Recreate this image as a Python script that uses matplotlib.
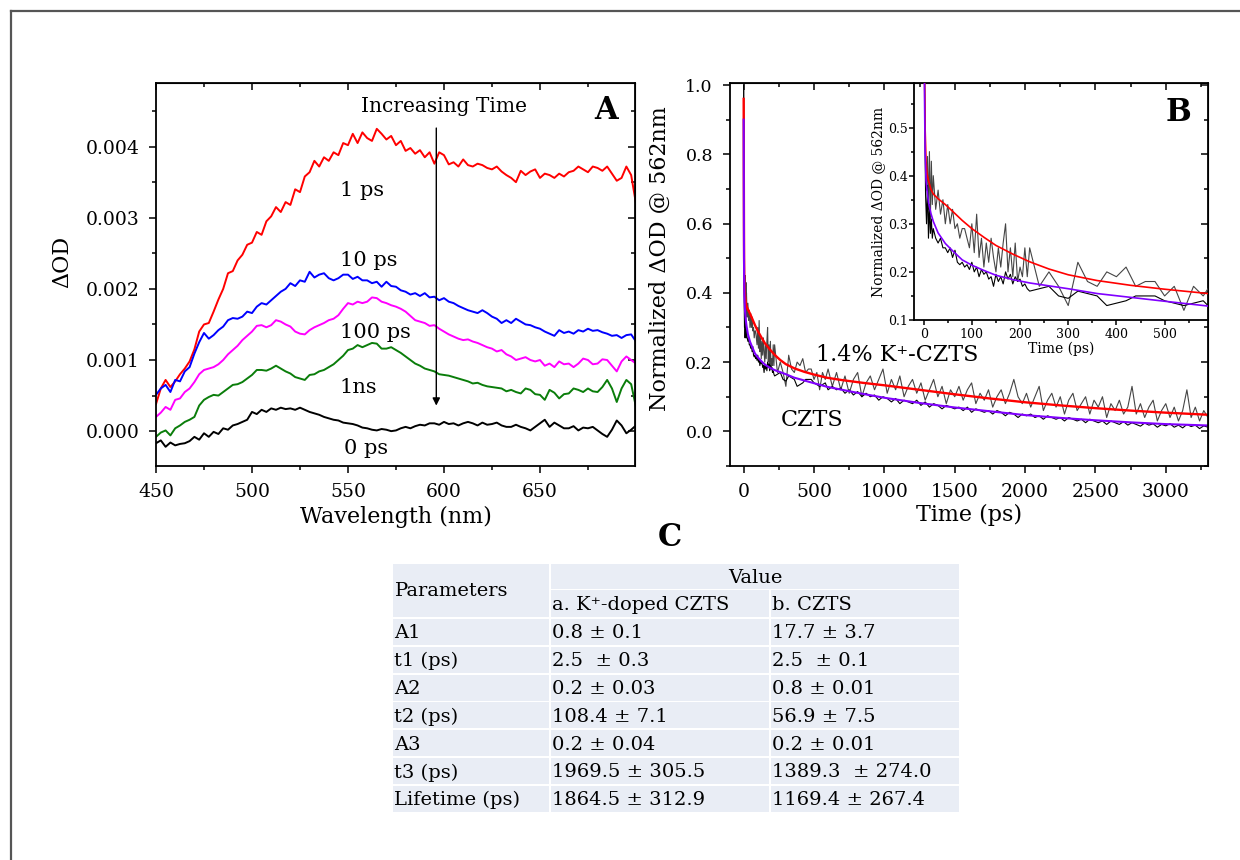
import matplotlib
matplotlib.use('Agg')
import matplotlib.pyplot as plt
import numpy as np
from matplotlib.lines import Line2D
from matplotlib.patches import Rectangle
from matplotlib.ticker import MultipleLocator, FormatStrFormatter, NullFormatter

plt.rcParams['font.family'] = ['DejaVu Serif', 'DejaVu Sans']
plt.rcParams['mathtext.fontset'] = 'dejavuserif'

# ---------------- panel A : transient spectra ----------------
wavelength = np.linspace(450, 700, 101)

od_1ps = [0.00038, 0.00060, 0.00072, 0.00062, 0.00070, 0.00080, 0.00088, 0.00098, 0.00115, 0.00140,
          0.00150, 0.00152, 0.00168, 0.00185, 0.00200, 0.00222, 0.00225, 0.00240, 0.00248, 0.00262,
          0.00265, 0.00280, 0.00276, 0.00295, 0.00302, 0.00315, 0.00308, 0.00322, 0.00318, 0.00340,
          0.00336, 0.00358, 0.00364, 0.00380, 0.00372, 0.00385, 0.00380, 0.00392, 0.00388, 0.00405,
          0.00402, 0.00418, 0.00405, 0.00420, 0.00412, 0.00408, 0.00425, 0.00418, 0.00410, 0.00415,
          0.00402, 0.00408, 0.00394, 0.00398, 0.00390, 0.00395, 0.00385, 0.00392, 0.00376, 0.00392,
          0.00388, 0.00375, 0.00378, 0.00372, 0.00382, 0.00374, 0.00372, 0.00376, 0.00374, 0.00370,
          0.00368, 0.00372, 0.00365, 0.00360, 0.00356, 0.00350, 0.00366, 0.00360, 0.00365, 0.00368,
          0.00356, 0.00362, 0.00360, 0.00356, 0.00362, 0.00358, 0.00364, 0.00366, 0.00372, 0.00368,
          0.00364, 0.00372, 0.00370, 0.00366, 0.00372, 0.00362, 0.00352, 0.00356, 0.00372, 0.00360,
          0.00320]
od_10ps = [0.00051, 0.00060, 0.00065, 0.00055, 0.00072, 0.00070, 0.00084, 0.00090, 0.00109, 0.00125,
           0.00138, 0.00130, 0.00135, 0.00142, 0.00147, 0.00156, 0.00159, 0.00158, 0.00161, 0.00168,
           0.00166, 0.00175, 0.00180, 0.00178, 0.00184, 0.00190, 0.00196, 0.00200, 0.00208, 0.00204,
           0.00212, 0.00210, 0.00224, 0.00216, 0.00220, 0.00222, 0.00215, 0.00212, 0.00215, 0.00220,
           0.00220, 0.00214, 0.00217, 0.00212, 0.00212, 0.00208, 0.00210, 0.00203, 0.00210, 0.00204,
           0.00203, 0.00198, 0.00196, 0.00192, 0.00194, 0.00190, 0.00194, 0.00188, 0.00189, 0.00184,
           0.00187, 0.00182, 0.00180, 0.00176, 0.00173, 0.00170, 0.00168, 0.00166, 0.00170, 0.00166,
           0.00161, 0.00158, 0.00152, 0.00156, 0.00152, 0.00158, 0.00154, 0.00150, 0.00149, 0.00146,
           0.00144, 0.00140, 0.00137, 0.00134, 0.00142, 0.00138, 0.00140, 0.00137, 0.00142, 0.00140,
           0.00144, 0.00141, 0.00142, 0.00139, 0.00137, 0.00134, 0.00135, 0.00131, 0.00135, 0.00136,
           0.00126]
od_100ps = [0.00020, 0.00026, 0.00034, 0.00030, 0.00044, 0.00046, 0.00055, 0.00060, 0.00069, 0.00080,
            0.00086, 0.00088, 0.00090, 0.00094, 0.00100, 0.00108, 0.00114, 0.00120, 0.00128, 0.00134,
            0.00140, 0.00148, 0.00149, 0.00146, 0.00149, 0.00156, 0.00154, 0.00150, 0.00147, 0.00140,
            0.00137, 0.00136, 0.00142, 0.00146, 0.00149, 0.00152, 0.00156, 0.00158, 0.00163, 0.00172,
            0.00180, 0.00178, 0.00182, 0.00180, 0.00182, 0.00188, 0.00187, 0.00182, 0.00180, 0.00177,
            0.00175, 0.00172, 0.00168, 0.00162, 0.00156, 0.00154, 0.00152, 0.00148, 0.00149, 0.00144,
            0.00140, 0.00136, 0.00133, 0.00130, 0.00128, 0.00129, 0.00126, 0.00124, 0.00121, 0.00118,
            0.00116, 0.00112, 0.00114, 0.00108, 0.00105, 0.00100, 0.00102, 0.00104, 0.00100, 0.00098,
            0.00100, 0.00092, 0.00095, 0.00090, 0.00098, 0.00094, 0.00095, 0.00090, 0.00095, 0.00102,
            0.00100, 0.00094, 0.00095, 0.00101, 0.00100, 0.00092, 0.00084, 0.00098, 0.00105, 0.00100,
            0.00095]
od_1ns = [-0.00008, -0.00002, 0.00001, -0.00006, 0.00004, 0.00008, 0.00013, 0.00016, 0.00020, 0.00036,
          0.00044, 0.00048, 0.00051, 0.00050, 0.00055, 0.00060, 0.00065, 0.00066, 0.00069, 0.00074,
          0.00079, 0.00086, 0.00086, 0.00085, 0.00088, 0.00092, 0.00088, 0.00084, 0.00081, 0.00076,
          0.00074, 0.00072, 0.00079, 0.00080, 0.00084, 0.00086, 0.00090, 0.00094, 0.00100, 0.00106,
          0.00114, 0.00116, 0.00121, 0.00118, 0.00121, 0.00124, 0.00123, 0.00116, 0.00116, 0.00118,
          0.00114, 0.00110, 0.00105, 0.00100, 0.00095, 0.00092, 0.00088, 0.00086, 0.00084, 0.00080,
          0.00079, 0.00078, 0.00076, 0.00074, 0.00072, 0.00070, 0.00067, 0.00068, 0.00065, 0.00063,
          0.00062, 0.00061, 0.00060, 0.00056, 0.00058, 0.00055, 0.00053, 0.00060, 0.00058, 0.00052,
          0.00051, 0.00044, 0.00058, 0.00054, 0.00046, 0.00052, 0.00053, 0.00060, 0.00058, 0.00055,
          0.00060, 0.00056, 0.00055, 0.00062, 0.00072, 0.00060, 0.00041, 0.00060, 0.00072, 0.00066,
          0.00034]
od_0ps = [-0.00017, -0.00013, -0.00022, -0.00016, -0.00020, -0.00018, -0.00017, -0.00014, -0.00008, -0.00012,
          -0.00003, -0.00008, -0.00001, -0.00004, 0.00004, 0.00002, 0.00008, 0.00010, 0.00013, 0.00016,
          0.00027, 0.00024, 0.00030, 0.00027, 0.00032, 0.00030, 0.00033, 0.00031, 0.00032, 0.00030,
          0.00033, 0.00030, 0.00027, 0.00025, 0.00023, 0.00020, 0.00018, 0.00016, 0.00015, 0.00012,
          0.00011, 0.00010, 0.00008, 0.00005, 0.00004, 0.00002, 0.00001, 0.00003, 0.00002, 0.00000,
          0.00001, 0.00004, 0.00006, 0.00004, 0.00007, 0.00009, 0.00008, 0.00011, 0.00011, 0.00009,
          0.00013, 0.00010, 0.00011, 0.00008, 0.00011, 0.00013, 0.00011, 0.00008, 0.00012, 0.00009,
          0.00010, 0.00012, 0.00008, 0.00006, 0.00006, 0.00009, 0.00006, 0.00004, 0.00001, 0.00006,
          0.00011, 0.00016, 0.00006, 0.00012, 0.00008, 0.00004, 0.00004, 0.00007, 0.00001, 0.00005,
          0.00004, 0.00006, 0.00001, -0.00004, -0.00008, 0.00002, 0.00015, 0.00008, -0.00003, 0.00002,
          0.00008]

spectra = [od_1ps, od_10ps, od_100ps, od_1ns, od_0ps]
spec_colors = ['#ff0000', '#0000ff', '#ff00ff', '#0a7d0a', '#000000']
spec_labels = ['1 ps', '10 ps', '100 ps', '1ns', '0 ps']
spec_label_x = [545.7, 545.7, 545.7, 545.7, 547.7]
spec_label_y = [0.00339, 0.00240, 0.00138, 0.00062, -0.00024]

# ---------------- panel B : kinetics at 562 nm ----------------
t_data = np.concatenate([np.arange(0, 20, 2), np.arange(20, 220, 5),
                         np.arange(220, 600, 20), 600 + 30 * np.arange(91)])

k_czts_data = [1.0, 0.62, 0.42, 0.37, 0.44, 0.33, 0.45, 0.31, 0.43, 0.34,
               0.40, 0.33, 0.37, 0.32, 0.35, 0.30, 0.34, 0.30, 0.33, 0.29,
               0.30, 0.27, 0.29, 0.29, 0.27, 0.25, 0.30, 0.24, 0.32, 0.23,
               0.27, 0.21, 0.26, 0.22, 0.27, 0.23, 0.20, 0.25, 0.21, 0.26,
               0.30, 0.20, 0.25, 0.19, 0.26, 0.18, 0.21, 0.19, 0.25, 0.19,
               0.25, 0.17, 0.20, 0.17, 0.13, 0.22, 0.18, 0.17, 0.20, 0.19,
               0.21, 0.17, 0.18, 0.18, 0.15, 0.17, 0.12, 0.17, 0.15,
               0.18, 0.13, 0.17, 0.12, 0.16, 0.11, 0.15, 0.17, 0.10, 0.14,
               0.16, 0.12, 0.15, 0.18, 0.11, 0.15, 0.12, 0.16, 0.10, 0.13,
               0.15, 0.11, 0.14, 0.09, 0.12, 0.15, 0.10, 0.13, 0.08, 0.12,
               0.10, 0.13, 0.09, 0.12, 0.14, 0.08, 0.11, 0.09, 0.12, 0.07,
               0.10, 0.12, 0.08, 0.11, 0.15, 0.10, 0.08, 0.11, 0.07, 0.10,
               0.13, 0.06, 0.09, 0.11, 0.07, 0.10, 0.05, 0.09, 0.11, 0.06,
               0.08, 0.10, 0.05, 0.09, 0.07, 0.10, 0.04, 0.08, 0.06, 0.09,
               0.05, 0.07, 0.13, 0.05, 0.08, 0.04, 0.07, 0.09, 0.03, 0.06,
               0.08, 0.04, 0.07, 0.03, 0.06, 0.12, 0.04, 0.07, 0.03, 0.06,
               0.04]
czts_data = [1.0, 0.55, 0.36, 0.30, 0.38, 0.27, 0.34, 0.28, 0.31, 0.27,
             0.29, 0.27, 0.26, 0.27, 0.25, 0.25, 0.24, 0.25, 0.23, 0.245,
             0.22, 0.215, 0.22, 0.21, 0.215, 0.205, 0.22, 0.20, 0.21, 0.19,
             0.205, 0.195, 0.20, 0.185, 0.19, 0.17, 0.195, 0.18, 0.19, 0.175,
             0.20, 0.185, 0.195, 0.175, 0.19, 0.18, 0.185, 0.17, 0.175, 0.165,
             0.16, 0.165, 0.17, 0.15, 0.145, 0.16, 0.155, 0.15, 0.13, 0.135,
             0.14, 0.15, 0.15, 0.15, 0.14, 0.135, 0.13, 0.135, 0.14,
             0.12, 0.13, 0.12, 0.125, 0.11, 0.12, 0.105, 0.115, 0.10, 0.11,
             0.10, 0.105, 0.09, 0.10, 0.095, 0.085, 0.095, 0.08, 0.09, 0.085,
             0.08, 0.09, 0.075, 0.085, 0.07, 0.08, 0.075, 0.065, 0.075, 0.07,
             0.065, 0.07, 0.06, 0.07, 0.055, 0.065, 0.06, 0.055, 0.06, 0.05,
             0.06, 0.055, 0.045, 0.055, 0.05, 0.04, 0.05, 0.045, 0.05, 0.04,
             0.045, 0.035, 0.045, 0.04, 0.035, 0.04, 0.03, 0.04, 0.035, 0.03,
             0.035, 0.025, 0.035, 0.03, 0.025, 0.03, 0.02, 0.03, 0.025, 0.02,
             0.028, 0.018, 0.025, 0.02, 0.015, 0.024, 0.018, 0.022, 0.012, 0.02,
             0.016, 0.022, 0.012, 0.018, 0.01, 0.02, 0.014, 0.018, 0.008, 0.016,
             0.012]

t_fit = [0, 1, 2, 3, 5, 7, 10, 15, 20, 30, 45, 60, 80, 100, 125, 150, 185, 220,
         260, 300, 360, 430, 500, 590, 700, 850, 1000, 1250, 1500, 1750, 2000,
         2250, 2500, 2750, 3000, 3300]
k_czts_fit = [0.96, 0.75, 0.60, 0.50, 0.43, 0.405, 0.39, 0.372, 0.362, 0.352, 0.340,
              0.326, 0.307, 0.290, 0.272, 0.255, 0.237, 0.221, 0.206, 0.194, 0.182,
              0.172, 0.164, 0.155, 0.148, 0.140, 0.133, 0.120, 0.107, 0.095, 0.084,
              0.075, 0.067, 0.060, 0.054, 0.048]
czts_fit = [0.90, 0.70, 0.55, 0.45, 0.39, 0.37, 0.345, 0.322, 0.305, 0.281, 0.259,
            0.244, 0.225, 0.214, 0.203, 0.193, 0.184, 0.177, 0.171, 0.165, 0.155,
            0.147, 0.139, 0.129, 0.120, 0.108, 0.097, 0.082, 0.069, 0.058, 0.047,
            0.039, 0.032, 0.026, 0.021, 0.017]

# ---------------- panel C : fit parameters ----------------
param_names = ['A1', 't1 (ps)', 'A2', 't2 (ps)', 'A3', 't3 (ps)', 'Lifetime (ps)']
k_doped_vals = ['0.8 ± 0.1', '2.5  ± 0.3', '0.2 ± 0.03', '108.4 ± 7.1',
                '0.2 ± 0.04', '1969.5 ± 305.5', '1864.5 ± 312.9']
czts_vals = ['17.7 ± 3.7', '2.5  ± 0.1', '0.8 ± 0.01', '56.9 ± 7.5',
             '0.2 ± 0.01', '1389.3  ± 274.0', '1169.4 ± 267.4']

n = min(len(t_data), len(k_czts_data), len(czts_data))
t_data = t_data[:n]

W, H = 1240, 860
fig = plt.figure(figsize=(12.4, 8.6), dpi=100)


def box(x0, y0, x1, y1):
    return [x0 / W, 1 - y1 / H, (x1 - x0) / W, (y1 - y0) / H]


def style(ax, xmaj, xmin, ymaj, ymin, size=13.5, mlen=5, nlen=3, pad=6, mirror=True):
    ax.xaxis.set_major_locator(MultipleLocator(xmaj))
    ax.xaxis.set_minor_locator(MultipleLocator(xmin))
    ax.yaxis.set_major_locator(MultipleLocator(ymaj))
    ax.yaxis.set_minor_locator(MultipleLocator(ymin))
    ax.tick_params(which='both', direction='out', width=1.1, labelsize=size, pad=pad)
    ax.tick_params(which='major', length=mlen)
    ax.tick_params(which='minor', length=nlen)
    for s in ax.spines.values():
        s.set_linewidth(1.3)
    if mirror:
        top = ax.secondary_xaxis('top')
        top.xaxis.set_major_locator(MultipleLocator(xmaj))
        top.xaxis.set_minor_locator(MultipleLocator(xmin))
        top.xaxis.set_major_formatter(NullFormatter())
        top.tick_params(which='both', direction='in', width=1.1)
        top.tick_params(which='major', length=mlen)
        top.tick_params(which='minor', length=nlen)
        right = ax.secondary_yaxis('right')
        right.yaxis.set_major_locator(MultipleLocator(ymaj))
        right.yaxis.set_minor_locator(MultipleLocator(ymin))
        right.yaxis.set_major_formatter(NullFormatter())
        right.tick_params(which='both', direction='in', width=1.1)
        right.tick_params(which='major', length=mlen)
        right.tick_params(which='minor', length=nlen)


# panel A
ax_a = fig.add_axes(box(156, 83.3, 635, 466))
for vals, col in zip(spectra, spec_colors):
    ax_a.plot(wavelength, vals, color=col, lw=1.4)
ax_a.set_xlim(450, 699.5)
ax_a.set_ylim(-0.00049, 0.00489)
style(ax_a, 50, 25, 0.001, 0.0005, pad=7)
ax_a.yaxis.set_major_formatter(FormatStrFormatter('%.3f'))
ax_a.set_xlabel('Wavelength (nm)', fontsize=16)
ax_a.xaxis.set_label_coords(0.5, -0.105)
ax_a.set_ylabel('ΔOD', fontsize=16)
ax_a.yaxis.set_label_coords(-0.172, 0.533)
for lab, lx, ly in zip(spec_labels, spec_label_x, spec_label_y):
    ax_a.text(lx, ly, lab, fontsize=15, va='center', ha='left')
ax_a.text(556.7, 0.00456, 'Increasing Time', fontsize=14.5, va='center', ha='left')
ax_a.annotate('', xy=(596, 0.00032), xytext=(596, 0.0043),
              arrowprops=dict(arrowstyle='-|>', color='k', lw=1.0, mutation_scale=11))
ax_a.text(0.9405, 0.928, 'A', transform=ax_a.transAxes, fontsize=22,
          fontweight='bold', ha='center', va='center')

# panel B
ax_b = fig.add_axes(box(729.6, 83.3, 1208, 466))
ax_b.plot(t_data, k_czts_data[:n], color='#454545', lw=0.8)
ax_b.plot(t_data, czts_data[:n], color='#000000', lw=0.8)
ax_b.plot(t_fit, k_czts_fit, color='#ff0000', lw=1.7)
ax_b.plot(t_fit, czts_fit, color='#8000ff', lw=1.5)
ax_b.set_xlim(-100, 3300)
ax_b.set_ylim(-0.1, 1.005)
style(ax_b, 500, 250, 0.2, 0.1, size=12.5, pad=7)
ax_b.tick_params(axis='x', labelsize=13.5)
ax_b.yaxis.set_major_formatter(FormatStrFormatter('%.1f'))
ax_b.set_xlabel('Time (ps)', fontsize=16)
ax_b.xaxis.set_label_coords(0.5, -0.10)
ax_b.set_ylabel('Normalized ΔOD @ 562nm', fontsize=16)
ax_b.yaxis.set_label_coords(-0.122, 0.543)
ax_b.text(514, 0.22, '1.4% K⁺-CZTS', fontsize=16, va='center', ha='left')
ax_b.text(265, 0.032, 'CZTS', fontsize=16, va='center', ha='left')

# inset
ax_i = fig.add_axes(box(914, 83.3, 1208, 320))
ax_i.patch.set_alpha(0)
ax_i.plot(t_data, k_czts_data[:n], color='#454545', lw=0.8)
ax_i.plot(t_data, czts_data[:n], color='#000000', lw=0.8)
ax_i.plot(t_fit, k_czts_fit, color='#ff0000', lw=1.2)
ax_i.plot(t_fit, czts_fit, color='#8000ff', lw=1.2)
ax_i.set_xlim(-20, 590)
ax_i.set_ylim(0.1, 0.592)
style(ax_i, 100, 50, 0.1, 0.05, size=9, mlen=3.5, nlen=2, pad=2, mirror=False)
ax_i.tick_params(axis='y', pad=1)
ax_i.yaxis.set_major_formatter(FormatStrFormatter('%.1f'))
ax_i.spines['top'].set_visible(False)
ax_i.spines['right'].set_visible(False)
ax_i.set_xlabel('Time (ps)', fontsize=10, labelpad=1)
ax_i.set_ylabel('Normalized ΔOD @ 562nm', fontsize=10, labelpad=2)
fig.text(1178.5 / W, 1 - 112.5 / H, 'B', fontsize=22, fontweight='bold',
         ha='center', va='center')

# panel C table
fig.text(670 / W, 1 - 537 / H, 'C', fontsize=22, fontweight='bold', ha='center', va='center')
tab = fig.add_axes(box(380, 540, 980, 830))
tab.set_xlim(380, 980)
tab.set_ylim(830, 540)
tab.axis('off')
cell = '#e9edf5'
g = 1.8
cols = [393, 550, 770, 960]
hdr = [563, 589.5, 618]
row_h = 27.8


def cellrect(x0, y0, x1, y1):
    tab.add_patch(Rectangle((x0 + g / 2, y0 + g / 2), x1 - x0 - g, y1 - y0 - g,
                            facecolor=cell, edgecolor='none'))


cellrect(cols[0] - g / 2, hdr[0], cols[1], hdr[2])
cellrect(cols[1], hdr[0], cols[3], hdr[1])
cellrect(cols[1], hdr[1], cols[2], hdr[2])
cellrect(cols[2], hdr[1], cols[3], hdr[2])
fs = 14
tab.text(394.5, (hdr[0] + hdr[2]) / 2 + 1, 'Parameters', fontsize=fs, va='center')
tab.text((cols[1] + cols[3]) / 2, (hdr[0] + hdr[1]) / 2 + 2, 'Value', fontsize=fs,
         va='center', ha='center')
tab.text(cols[1] + 2.5, (hdr[1] + hdr[2]) / 2 + 1, 'a. K⁺-doped CZTS', fontsize=fs, va='center')
tab.text(cols[2] + 2.5, (hdr[1] + hdr[2]) / 2 + 1, 'b. CZTS', fontsize=fs, va='center')
for i, (p, a, b) in enumerate(zip(param_names, k_doped_vals, czts_vals)):
    y0 = hdr[2] + i * row_h
    y1 = y0 + row_h
    cellrect(cols[0] - g / 2, y0, cols[1], y1)
    cellrect(cols[1], y0, cols[2], y1)
    cellrect(cols[2], y0, cols[3], y1)
    yc = (y0 + y1) / 2 + 1.5
    tab.text(394.5, yc, p, fontsize=fs, va='center')
    tab.text(cols[1] + 2.5, yc, a, fontsize=fs, va='center')
    tab.text(cols[2] + 2.5, yc, b, fontsize=fs, va='center')

# frame lines of the figure
fig.add_artist(Line2D([11 / W, 1], [1 - 11 / H, 1 - 11 / H], color='#555555', lw=1.6,
                      transform=fig.transFigure))
fig.add_artist(Line2D([11 / W, 11 / W], [1 - 11 / H, 0], color='#555555', lw=1.6,
                      transform=fig.transFigure))

fig.savefig('out.png', dpi=100)
